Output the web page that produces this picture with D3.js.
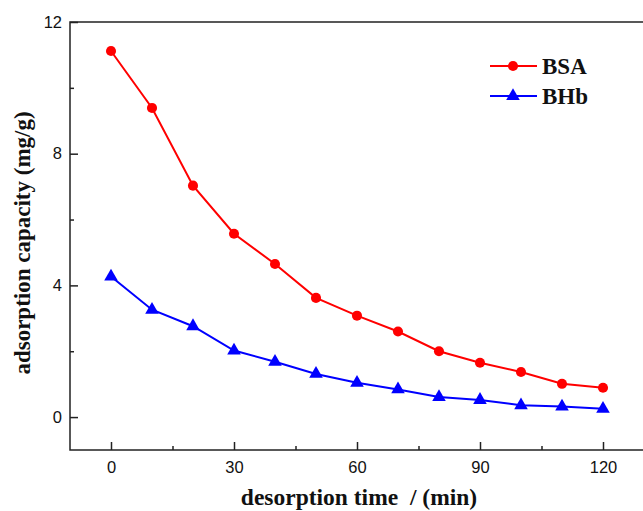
<!DOCTYPE html>
<html>
<head>
<meta charset="utf-8">
<script src="https://cdn.jsdelivr.net/npm/d3@7"></script>
<style>
  html, body { margin: 0; padding: 0; background: #fff; }
  svg { display: block; }
</style>
</head>
<body>
<svg id="chart" width="643" height="511"></svg>
<script>
// Desorption time (min)
const times = [0, 10, 20, 30, 40, 50, 60, 70, 80, 90, 100, 110, 120];
// Adsorption capacity (mg/g)
const bsaValues = [11.12, 9.39, 7.03, 5.57, 4.65, 3.62, 3.08, 2.60, 2.00, 1.65, 1.37, 1.01, 0.89];
const bhbValues = [4.27, 3.26, 2.76, 2.02, 1.68, 1.31, 1.04, 0.84, 0.61, 0.52, 0.36, 0.32, 0.25];
const xTicks = [0, 30, 60, 90, 120];
const yTicks = [0, 4, 8, 12];
const seriesNames = ["BSA", "BHb"];

const svg = d3.select("#chart");
const plotLeft = 70, plotRight = 644, plotTop = 22, plotBottom = 450;

const x = d3.scaleLinear().domain([-10, 130]).range([plotLeft, plotRight]);
const y = d3.scaleLinear().domain([-1, 12]).range([plotBottom, plotTop]);

const axisColor = "#222";
const tickFont = "'Liberation Sans', Arial, sans-serif";
const serif = "'Liberation Serif', 'Times New Roman', serif";

// Frame
svg.append("rect")
  .attr("x", plotLeft).attr("y", plotTop)
  .attr("width", plotRight - plotLeft).attr("height", plotBottom - plotTop)
  .attr("fill", "none").attr("stroke", axisColor).attr("stroke-width", 1.5);

// Bottom axis: major ticks (labelled) and minor ticks, pointing inward
const xAxis = svg.append("g").attr("transform", `translate(0,${plotBottom})`)
  .call(d3.axisBottom(x).tickValues(xTicks).tickSizeInner(-8).tickSizeOuter(0).tickPadding(11));
xAxis.select(".domain").remove();
xAxis.selectAll("line").attr("stroke", axisColor).attr("stroke-width", 1.5);
xAxis.selectAll("text").attr("font-family", tickFont).attr("font-size", 16.5).attr("fill", "#111");

const xMinor = svg.append("g").attr("transform", `translate(0,${plotBottom})`)
  .call(d3.axisBottom(x).tickValues([15, 45, 75, 105]).tickSizeInner(-4).tickSizeOuter(0).tickFormat(""));
xMinor.select(".domain").remove();
xMinor.selectAll("line").attr("stroke", axisColor).attr("stroke-width", 1.5);

// Left axis
const yAxis = svg.append("g").attr("transform", `translate(${plotLeft},0)`)
  .call(d3.axisLeft(y).tickValues(yTicks).tickSizeInner(-8).tickSizeOuter(0).tickPadding(8));
yAxis.select(".domain").remove();
yAxis.selectAll("line").attr("stroke", axisColor).attr("stroke-width", 1.5);
yAxis.selectAll("text").attr("font-family", tickFont).attr("font-size", 16.5).attr("fill", "#111");

const yMinor = svg.append("g").attr("transform", `translate(${plotLeft},0)`)
  .call(d3.axisLeft(y).tickValues([2, 6, 10]).tickSizeInner(-4).tickSizeOuter(0).tickFormat(""));
yMinor.select(".domain").remove();
yMinor.selectAll("line").attr("stroke", axisColor).attr("stroke-width", 1.5);

// Series
const series = [
  { name: seriesNames[0], values: bsaValues, color: "#ff0000", symbol: d3.symbolCircle, size: 80 },
  { name: seriesNames[1], values: bhbValues, color: "#0000ff", symbol: d3.symbolTriangle, size: 80 }
];

const line = d3.line().x(d => x(d[0])).y(d => y(d[1]));

series.forEach(s => {
  const pts = times.map((t, i) => [t, s.values[i]]);
  svg.append("path")
    .datum(pts)
    .attr("d", line)
    .attr("fill", "none")
    .attr("stroke", s.color)
    .attr("stroke-width", 2);
  svg.append("g").selectAll("path")
    .data(pts)
    .join("path")
    .attr("transform", d => `translate(${x(d[0])},${y(d[1])})`)
    .attr("d", d3.symbol().type(s.symbol).size(s.size))
    .attr("fill", s.color);
});

// Legend
const legend = svg.append("g");
series.forEach((s, i) => {
  const ly = 66 + i * 30;
  legend.append("line")
    .attr("x1", 490).attr("x2", 537).attr("y1", ly).attr("y2", ly)
    .attr("stroke", s.color).attr("stroke-width", 2);
  legend.append("path")
    .attr("transform", `translate(513,${ly})`)
    .attr("d", d3.symbol().type(s.symbol).size(s.size))
    .attr("fill", s.color);
  legend.append("text")
    .attr("x", 542).attr("y", ly + 8)
    .attr("font-family", serif).attr("font-weight", "bold").attr("font-size", 23)
    .attr("fill", "#111")
    .text(s.name);
});

// Axis titles
svg.append("text")
  .attr("x", 359).attr("y", 505)
  .attr("text-anchor", "middle")
  .attr("font-family", serif).attr("font-weight", "bold").attr("font-size", 23.5)
  .attr("fill", "#111")
  .attr("xml:space", "preserve")
  .text("desorption time  / (min)");

svg.append("text")
  .attr("transform", "translate(30,243) rotate(-90)")
  .attr("text-anchor", "middle")
  .attr("font-family", serif).attr("font-weight", "bold").attr("font-size", 23)
  .attr("fill", "#111")
  .text("adsorption capacity (mg/g)");
</script>
</body>
</html>
